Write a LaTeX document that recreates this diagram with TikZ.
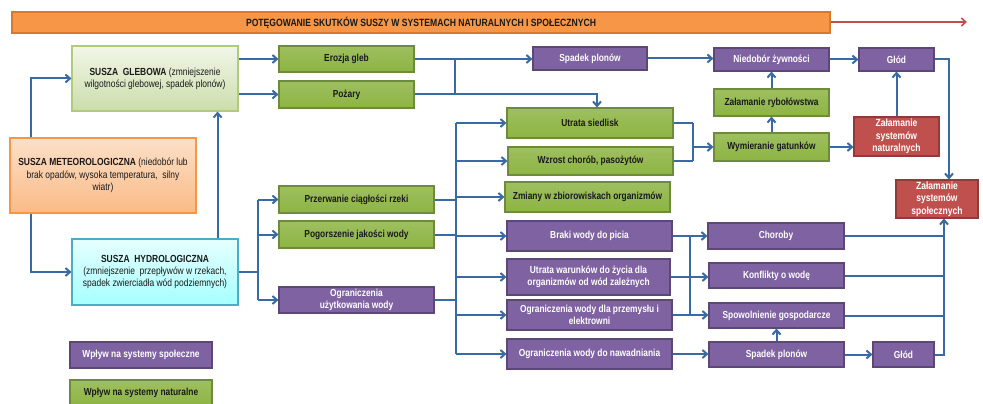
\documentclass[tikz,border=0pt]{standalone}
\usepackage{fontspec}
\setmainfont{Liberation Sans}[FakeStretch=0.82]
\usetikzlibrary{arrows.meta,shadows}

\definecolor{linkblue}{HTML}{3A6AA3}
\definecolor{natgreen}{HTML}{8DB443}
\definecolor{natgreenB}{HTML}{6E8B3D}
\definecolor{socpurple}{HTML}{7F62A1}
\definecolor{socpurpleB}{HTML}{5C4776}
\definecolor{colred}{HTML}{C0504D}
\definecolor{colredB}{HTML}{8E3B39}
\definecolor{bannerorange}{HTML}{F79646}
\definecolor{bannerorangeB}{HTML}{D9792F}
\definecolor{hydroB}{HTML}{4BACC6}
\definecolor{txtdark}{HTML}{1A1A1A}

\tikzset{
  base/.style={rectangle, inner sep=1pt, align=center, line width=1.1pt,
    drop shadow={opacity=0.18, shadow xshift=1.2pt, shadow yshift=-1.2pt}},
  natbox/.style={base, draw=natgreenB, top color=natgreen!85!white, bottom color=natgreen,
    text=txtdark, font=\fontsize{10.2}{12}\selectfont\bfseries},
  socbox/.style={base, draw=socpurpleB, fill=socpurple,
    text=white, font=\fontsize{10.2}{12}\selectfont\bfseries},
  colbox/.style={base, draw=colredB, fill=colred,
    text=white, font=\fontsize{10.4}{12.5}\selectfont\bfseries},
  soilbox/.style={base, draw=natgreen!70, top color=natgreen!12!white, bottom color=natgreen!45!white,
    text=txtdark, font=\fontsize{10.3}{12}\selectfont},
  meteobox/.style={base, draw=bannerorange, top color=bannerorange!30!white, bottom color=bannerorange!65!white,
    text=txtdark, font=\fontsize{10.3}{12.5}\selectfont},
  hydrobox/.style={base, draw=hydroB, top color=cyan!10!white, bottom color=cyan!35!white,
    text=txtdark, font=\fontsize{10.3}{12}\selectfont},
  bannerbox/.style={rectangle, draw=bannerorangeB, fill=bannerorange, line width=1.1pt,
    text=txtdark, font=\fontsize{10.5}{12}\selectfont\bfseries},
  link/.style={draw=linkblue, line width=2pt},
  arr/.style={link, -{Straight Barb[length=4.5pt,width=8pt,line width=2pt]}},
}

% box from its corners: style, name, x1, y1, x2, y2, text
\newcommand\cornerbox[7]{%
  \node[#1, minimum width={((#5)-(#3))*1pt}, minimum height={((#6)-(#4))*1pt}]
    (#2) at ({((#3)+(#5))/2},{((#4)+(#6))/2}) {#7};}

\begin{document}
\begin{tikzpicture}[x=1pt,y=-1pt]
\useasboundingbox (0,0) rectangle (983,404);
\clip (0,0) rectangle (983,404);

% title banner with its arrow
\cornerbox{bannerbox}{banner}{12}{12}{830}{33}{POTĘGOWANIE SKUTKÓW SUSZY W SYSTEMACH NATURALNYCH I SPOŁECZNYCH}
\coordinate (bannerend) at (967,22);
\draw[draw=colred, line width=1.6pt, -{Straight Barb[length=4.5pt,width=8pt,line width=1.6pt]}]
  (banner.east |- bannerend) -- (bannerend);

% drought types
\cornerbox{soilbox}{glebowa}{72}{46}{238}{111}{\textbf{SUSZA\ \ GLEBOWA} (zmniejszenie\\wilgotności glebowej, spadek plonów)}
\cornerbox{meteobox}{meteo}{10}{138}{196}{213}{\textbf{SUSZA METEOROLOGICZNA} (niedobór lub\\brak opadów, wysoka temperatura,\ \ silny\\wiatr)}
\cornerbox{hydrobox}{hydro}{72}{239}{238}{305}{\textbf{SUSZA\ \ HYDROLOGICZNA}\\(zmniejszenie\ \ przepływów w rzekach,\\spadek zwierciadła wód podziemnych)}

% legend
\cornerbox{socbox}{legsoc}{70}{342}{212}{368}{Wpływ na systemy społeczne}
\cornerbox{natbox}{legnat}{70}{380}{212}{406}{Wpływ na systemy naturalne}

% first-order effects
\cornerbox{natbox}{erozja}{279}{46}{414}{72}{Erozja gleb}
\cornerbox{natbox}{pozary}{279}{81}{414}{108}{Pożary}
\cornerbox{natbox}{przerwanie}{279}{186}{434}{213}{Przerwanie ciągłości rzeki}
\cornerbox{natbox}{pogorszenie}{279}{221}{434}{248}{Pogorszenie jakości wody}
\cornerbox{socbox}{ogruzyt}{279}{287}{434}{313}{Ograniczenia\\użytkowania wody}

% second-order effects
\cornerbox{socbox}{spadekA}{533}{47}{647}{70}{Spadek plonów}
\cornerbox{natbox}{utratas}{507}{108}{673}{138}{Utrata siedlisk}
\cornerbox{natbox}{wzrost}{508}{147}{673}{175}{Wzrost chorób, pasożytów}
\cornerbox{natbox}{zmiany}{505}{182}{670}{212}{Zmiany w zbiorowiskach organizmów}
\cornerbox{socbox}{braki}{507}{221}{672}{251}{Braki wody do picia}
\cornerbox{socbox}{utrataw}{507}{259}{670}{295}{Utrata warunków do życia dla\\organizmów od wód zależnych}
\cornerbox{socbox}{ogrprzem}{507}{300}{672}{330}{Ograniczenia wody dla przemysłu i\\elektrowni}
\cornerbox{socbox}{ogrnaw}{507}{339}{672}{369}{Ograniczenia wody do nawadniania}

% further effects
\cornerbox{socbox}{niedobor}{714}{48}{829}{71}{Niedobór żywności}
\cornerbox{natbox}{rybol}{714}{89}{829}{116}{Załamanie rybołówstwa}
\cornerbox{natbox}{wymier}{714}{133}{829}{161}{Wymieranie gatunków}
\cornerbox{socbox}{glodA}{859}{48}{934}{71}{Głód}
\cornerbox{colbox}{zalnat}{854}{117}{939}{156}{Załamanie\\systemów\\naturalnych}
\cornerbox{colbox}{zalspol}{896}{180}{978}{218}{Załamanie\\systemów\\społecznych}
\cornerbox{socbox}{choroby}{708}{223}{844}{249}{Choroby}
\cornerbox{socbox}{konflikty}{709}{263}{844}{288}{Konflikty o wodę}
\cornerbox{socbox}{spowol}{709}{303}{844}{328}{Spowolnienie gospodarcze}
\cornerbox{socbox}{spadekB}{709}{342}{844}{367}{Spadek plonów}
\cornerbox{socbox}{glodB}{873}{342}{934}{367}{Głód}

% bus lines
\coordinate (busmeteo) at (31,0);
\coordinate (busgleb) at (455,0);
\coordinate (bushydro) at (258,0);
\coordinate (busmain) at (456,0);
\coordinate (busnat) at (693,0);
\coordinate (bussoc) at (690,0);
\coordinate (busend) at (944,0);
\coordinate (busglod) at (949,0);

% meteorological drought feeds the other two
\draw[arr] (meteo.north -| busmeteo) |- (glebowa);
\draw[arr] (meteo.south -| busmeteo) |- (hydro);
\draw[arr] ([xshift=-21pt]hydro.north east) -- ([xshift=-21pt]glebowa.south east);

% soil drought
\draw[arr] (glebowa.east |- erozja) -- (erozja.west);
\draw[arr] (glebowa.east |- pozary) -- (pozary.west);
\draw[arr] (erozja.east) -- (erozja.east -| spadekA.west);
\draw[arr] (pozary.east) -| ([xshift=7pt]utratas.north);
\draw[link] (busgleb |- erozja) -- (busgleb |- pozary);

% hydrological drought
\draw[link] (hydro.east) -- (hydro.east -| bushydro);
\draw[link] (bushydro |- przerwanie) -- (bushydro |- ogruzyt);
\foreach \n in {przerwanie,pogorszenie,ogruzyt}
  \draw[arr] (bushydro |- \n) -- (\n.west);

% main distribution bus
\draw[link] (busmain |- utratas) -- (busmain |- ogrnaw);
\foreach \n in {przerwanie,pogorszenie,ogruzyt}
  \draw[link] (\n.east) -- (\n.east -| busmain);
\foreach \n in {utratas,wzrost,zmiany,braki,utrataw,ogrprzem,ogrnaw}
  \draw[arr] (busmain |- \n) -- (\n.west);

% natural systems chain
\draw[link] (utratas.east) -- (utratas.east -| busnat);
\draw[link] (wzrost.east) -- (wzrost.east -| busnat);
\draw[link] (busnat |- utratas) -- (busnat |- wzrost);
\draw[arr] (busnat |- wymier) -- (wymier.west);
\draw[arr] (wymier.north) -- (rybol.south);
\draw[arr] (rybol.north) -- (niedobor.south);
\draw[arr] (spadekA.east) -- (spadekA.east -| niedobor.west);
\draw[arr] (niedobor.east) -- (niedobor.east -| glodA.west);
\draw[arr] (wymier.east) -- (wymier.east -| zalnat.west);
\draw[arr] (zalnat.north) -- (glodA.south);
\draw[arr] (glodA.east) -| (busglod |- zalspol.north);

% social systems chain
\draw[link] (bussoc |- braki) -- (bussoc |- ogrprzem);
\draw[arr] (braki.east) -- (braki.east -| choroby.west);
\draw[arr] (utrataw.east) -- (utrataw.east -| konflikty.west);
\draw[arr] (ogrprzem.east) -- (ogrprzem.east -| spowol.west);
\draw[arr] (ogrnaw.east) -- (ogrnaw.east -| spadekB.west);
\draw[arr] (spadekB.north) -- (spowol.south);
\draw[arr] (spadekB.east) -- (spadekB.east -| glodB.west);
\foreach \n in {choroby,konflikty,spowol}
  \draw[link] (\n.east) -- (\n.east -| busend);
\draw[arr] (glodB.east) -| (busend |- zalspol.south);

\end{tikzpicture}
\end{document}
